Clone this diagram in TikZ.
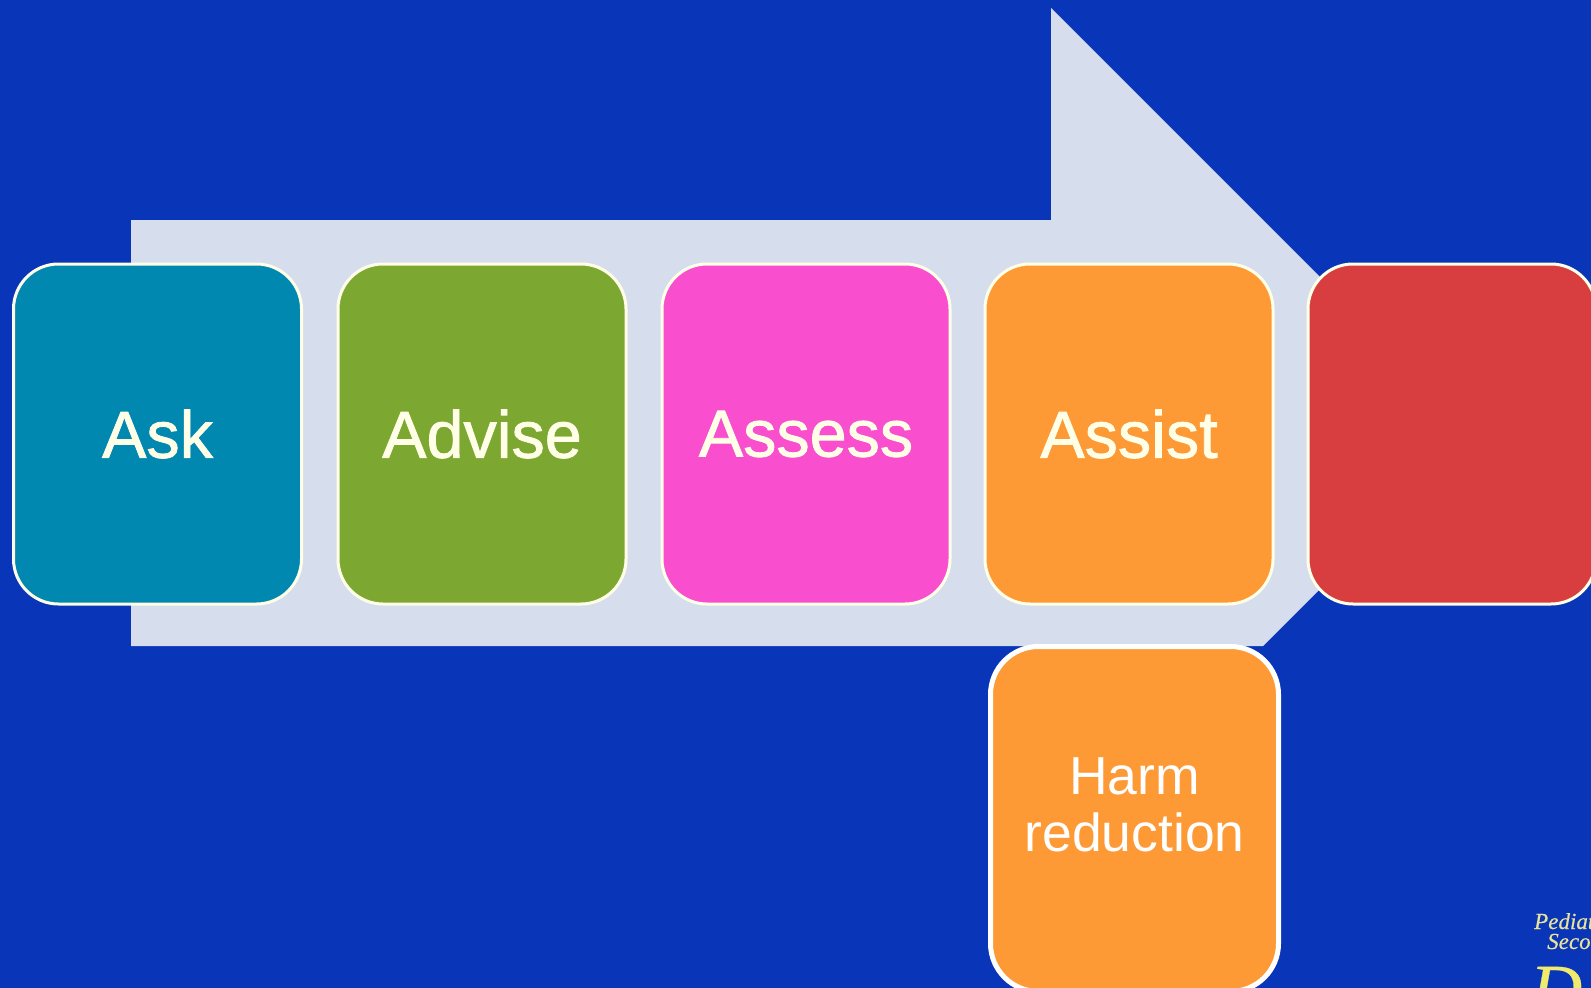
\documentclass[tikz,border=0pt]{standalone}
\usepackage{fontspec}
\setmainfont{Liberation Sans}
\newfontfamily\stagefont[FakeBold=1.2]{Liberation Sans}
\newfontfamily\logofont[FakeBold=0.4]{Liberation Serif}
\definecolor{slidebg}{HTML}{0935B9}
\definecolor{arrowfill}{HTML}{D6DEEE}
\definecolor{askcol}{HTML}{0088B0}
\definecolor{advisecol}{HTML}{7CA832}
\definecolor{assesscol}{HTML}{F94FCF}
\definecolor{assistcol}{HTML}{FD9A35}
\definecolor{quitcol}{HTML}{D83E3F}
\definecolor{logocol}{HTML}{E8E39A}
\tikzset{
  stagebox/.style={draw=white!90!yellow, line width=3pt, rounded corners=45pt, minimum width=288pt, minimum height=340pt, inner sep=0pt, text=white!90!yellow, font=\stagefont\fontsize{66.5}{66.5}\selectfont},
  extrabox/.style={draw=white, line width=5pt, rounded corners=48pt, fill=assistcol, minimum width=288pt, minimum height=345pt, inner sep=0pt},
  extratext/.style={inner sep=0pt, text=white, align=center, font=\fontsize{53.5}{57}\selectfont},
  logotext/.style={anchor=base west, inner sep=0pt, text=logocol, font=\logofont\itshape\fontsize{23}{23}\selectfont},
}
\begin{document}
\begin{tikzpicture}[x=1pt,y=-1pt]
    \clip (0,0) rectangle (1591,988);
    \fill[slidebg] (0,0) rectangle (1591,988);
    \fill[arrowfill] (131,220) -- (1051,220) -- (1051,8) -- (1476,433) -- (1263,646) -- (131,646) -- cycle;
    \node[stagebox, fill=askcol] (ask) at (157.5,434) {Ask};
    \node[stagebox, fill=advisecol] (advise) at (482,434) {Advise};
    \node[stagebox, fill=assesscol] (assess) at (806,434) {Assess};
    \node[stagebox, fill=assistcol] (assist) at (1129,434) {Assist};
    \node[stagebox, fill=quitcol] (quit) at (1452,434) {};
    \node[extrabox] (harm) at (1134.5,819) {};
    \node[extratext] (harmtext) at (1134.5,805) {Harm\\reduction};
    \node[logotext] (logoa) at (1534,929) {Pediat};
    \node[logotext] (logob) at (1547,949) {Seco};
    \node[logotext, font=\logofont\itshape\fontsize{72}{72}\selectfont, text=logocol!70!yellow] (logoc) at (1530,1014) {D};
\end{tikzpicture}
\end{document}
